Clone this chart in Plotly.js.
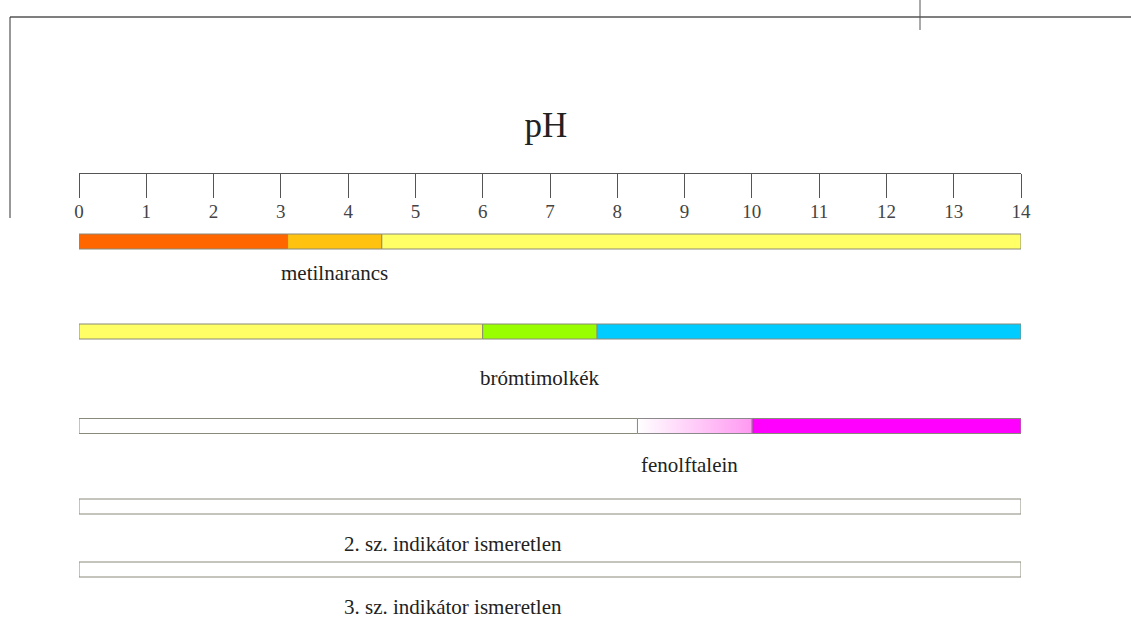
<!DOCTYPE html>
<html>
<head>
<meta charset="utf-8">
<script src="https://cdn.plot.ly/plotly-3.0.1.min.js"></script>
<style>html,body{margin:0;padding:0;background:#fff;}#chart{width:1131px;height:640px;}</style>
</head>
<body>
<div id="chart"></div>
<script>
// ---- data ----
const indicators = ['metilnarancs', 'brómtimolkék', 'fenolftalein', '2. sz. indikátor ismeretlen', '3. sz. indikátor ismeretlen'];
const metilnarancsBreaks = [0, 3.1, 4.5, 14];
const metilnarancsColors = ['#ff6600', '#ffc20e', '#ffff66'];
const bromtimolkekBreaks = [0, 6.0, 7.7, 14];
const bromtimolkekColors = ['#ffff66', '#99ff00', '#00ccff'];
const fenolftaleinBreaks = [0, 8.3, 10.0, 14];
const fenolftaleinColors = ['#ffffff', 'gradient', '#ff00ff'];
const unknown2Breaks = [0, 14];
const unknown2Colors = ['#ffffff'];
const unknown3Breaks = [0, 14];
const unknown3Colors = ['#ffffff'];
const pHTicks = [0,1,2,3,4,5,6,7,8,9,10,11,12,13,14];

// ---- layout constants (pixel rows, label positions) ----
const SERIF = 'Liberation Serif';
const rowY = [241.5, 331.5, 426, 506.5, 569.5];
const barH = 15;
const labelX = [3.8, 6.85, 9.07, 5.56, 5.56];
const labelY = [273, 378, 465, 544, 607];
const gradientScale = [[0, '#ffffff'], [1, '#ff99f2']];

const rows = [
  [metilnarancsBreaks, metilnarancsColors],
  [bromtimolkekBreaks, bromtimolkekColors],
  [fenolftaleinBreaks, fenolftaleinColors],
  [unknown2Breaks, unknown2Colors],
  [unknown3Breaks, unknown3Colors]
];

const traces = [];
rows.forEach(([br, cols], r) => {
  for (let i = 0; i < cols.length; i++) {
    const a = br[i], b = br[i + 1];
    if (cols[i] === 'gradient') {
      const y0 = rowY[r] - barH / 2, y1 = rowY[r] + barH / 2;
      traces.push({
        type: 'scatter', mode: 'lines', x: [a, b, b, a, a], y: [y0, y0, y1, y1, y0],
        fill: 'toself', fillgradient: {type: 'horizontal', colorscale: gradientScale},
        line: {color: '#8a8a8a', width: 1}, hoverinfo: 'skip', showlegend: false
      });
    } else {
      traces.push({
        type: 'bar', orientation: 'h', base: [a], x: [b - a], y: [rowY[r]], width: barH,
        marker: {color: cols[i], line: {color: '#8a8a7a', width: 1}},
        hoverinfo: 'skip', showlegend: false
      });
    }
  }
});

const annotations = indicators.map((t, i) => ({
  x: labelX[i], y: labelY[i], xref: 'x', yref: 'y', text: t, showarrow: false,
  xanchor: 'center', yanchor: 'middle',
  font: {family: SERIF, size: 21, color: '#222'}
}));

const layout = {
  width: 1131, height: 640,
  margin: {l: 79, r: 110, t: 0, b: 0, pad: 0},
  paper_bgcolor: '#ffffff', plot_bgcolor: 'rgba(0,0,0,0)',
  font: {family: SERIF},
  barmode: 'overlay',
  title: {text: 'pH', x: (546 - 79) / 942, xref: 'paper', xanchor: 'center', y: 1 - 125 / 640, yanchor: 'middle',
          font: {family: SERIF, size: 35, color: '#222'}},
  xaxis: {range: [0, 14], tickvals: pHTicks, ticktext: pHTicks.map(String),
          anchor: 'free', position: 1 - 173 / 640, side: 'bottom',
          showline: true, linecolor: '#555', linewidth: 1,
          ticks: 'outside', ticklen: 24, tickwidth: 1, tickcolor: '#555',
          ticklabelstandoff: -3,
          tickfont: {family: SERIF, size: 19, color: '#444'},
          showgrid: false, zeroline: false, fixedrange: true},
  yaxis: {range: [640, 0], visible: false, fixedrange: true},
  annotations: annotations,
  shapes: [
    {type: 'line', xref: 'paper', yref: 'paper', x0: (10 - 79) / 942, x1: (1131 - 79) / 942, y0: 1 - 17 / 640, y1: 1 - 17 / 640, line: {color: '#555', width: 1.5}},
    {type: 'line', xref: 'paper', yref: 'paper', x0: (10 - 79) / 942, x1: (10 - 79) / 942, y0: 1 - 17 / 640, y1: 1 - 218 / 640, line: {color: '#333', width: 1}},
    {type: 'line', xref: 'paper', yref: 'paper', x0: (920 - 79) / 942, x1: (920 - 79) / 942, y0: 1, y1: 1 - 30 / 640, line: {color: '#555', width: 1}}
  ]
};

Plotly.newPlot('chart', traces, layout, {displayModeBar: false, staticPlot: true});
</script>
</body>
</html>
